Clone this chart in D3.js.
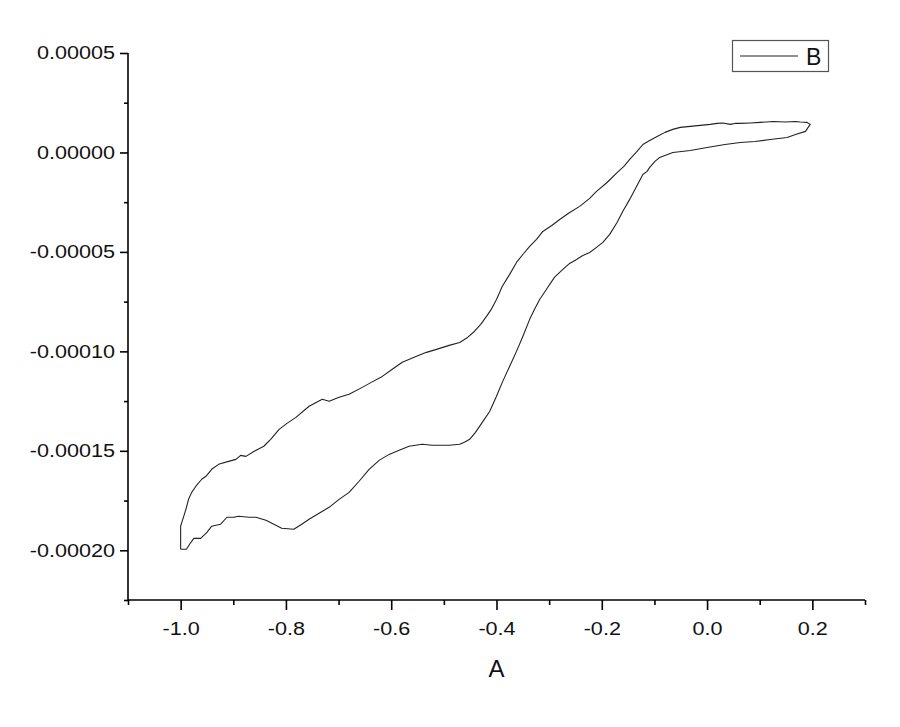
<!DOCTYPE html>
<html>
<head>
<meta charset="utf-8">
<script src="https://cdn.jsdelivr.net/npm/d3@7"></script>
<style>
  html, body { margin: 0; padding: 0; background: #fff; }
  svg { display: block; }
  text { font-family: "Liberation Sans", Arial, sans-serif; fill: #111; }
</style>
</head>
<body>
<svg id="chart" width="900" height="727"></svg>
<script>
// ---- data (x = A, y = B) ----
const forwardScan = [
  [-1.000,-19.95e-5],[-1.000,-19.45e-5],[-1.000,-18.79e-5],[-0.990,-17.94e-5],[-0.985,-17.44e-5],
  [-0.979,-17.09e-5],[-0.971,-16.78e-5],[-0.960,-16.43e-5],[-0.952,-16.28e-5],[-0.941,-15.93e-5],
  [-0.928,-15.68e-5],[-0.909,-15.53e-5],[-0.895,-15.43e-5],[-0.886,-15.23e-5],[-0.876,-15.28e-5],
  [-0.861,-15.03e-5],[-0.842,-14.77e-5],[-0.829,-14.42e-5],[-0.813,-13.92e-5],[-0.798,-13.62e-5],
  [-0.781,-13.32e-5],[-0.756,-12.76e-5],[-0.731,-12.41e-5],[-0.718,-12.51e-5],[-0.699,-12.31e-5],
  [-0.680,-12.16e-5],[-0.655,-11.81e-5],[-0.638,-11.56e-5],[-0.617,-11.26e-5],[-0.598,-10.90e-5],
  [-0.579,-10.55e-5],[-0.552,-10.25e-5],[-0.533,-10.05e-5],[-0.514,-9.90e-5],[-0.490,-9.70e-5],
  [-0.470,-9.55e-5],[-0.455,-9.30e-5],[-0.442,-9.00e-5],[-0.430,-8.64e-5],[-0.419,-8.24e-5],
  [-0.410,-7.89e-5],[-0.400,-7.39e-5],[-0.389,-6.73e-5],[-0.375,-6.13e-5],[-0.362,-5.53e-5],
  [-0.350,-5.13e-5],[-0.337,-4.72e-5],[-0.324,-4.37e-5],[-0.312,-3.97e-5],[-0.295,-3.67e-5],
  [-0.280,-3.37e-5],[-0.261,-3.02e-5],[-0.242,-2.71e-5],[-0.223,-2.31e-5],[-0.210,-1.96e-5],
  [-0.190,-1.51e-5],[-0.171,-1.01e-5],[-0.158,-0.70e-5],[-0.147,-0.35e-5],[-0.133,0.05e-5],
  [-0.122,0.40e-5],[-0.109,0.60e-5],[-0.095,0.80e-5],[-0.080,1.01e-5],[-0.065,1.16e-5],
  [-0.051,1.26e-5],[-0.032,1.31e-5],[-0.013,1.36e-5],[0.006,1.41e-5],[0.019,1.46e-5],
  [0.030,1.48e-5],[0.044,1.41e-5],[0.053,1.46e-5],[0.063,1.46e-5],[0.082,1.48e-5],
  [0.101,1.51e-5],[0.126,1.56e-5],[0.149,1.53e-5],[0.168,1.56e-5],[0.177,1.53e-5],
  [0.190,1.51e-5],[0.196,1.41e-5],[0.192,1.26e-5]
];
const reverseScan = [
  [0.187,1.06e-5],[0.168,0.90e-5],[0.152,0.75e-5],[0.120,0.65e-5],[0.091,0.55e-5],
  [0.063,0.50e-5],[0.034,0.40e-5],[0.000,0.25e-5],[-0.032,0.10e-5],[-0.065,0.00e-5],
  [-0.080,-0.15e-5],[-0.090,-0.25e-5],[-0.099,-0.45e-5],[-0.109,-0.75e-5],[-0.114,-0.95e-5],
  [-0.122,-1.11e-5],[-0.133,-1.66e-5],[-0.147,-2.36e-5],[-0.160,-2.96e-5],[-0.171,-3.52e-5],
  [-0.185,-4.12e-5],[-0.198,-4.52e-5],[-0.210,-4.77e-5],[-0.223,-5.03e-5],[-0.236,-5.18e-5],
  [-0.248,-5.38e-5],[-0.261,-5.58e-5],[-0.274,-5.88e-5],[-0.290,-6.28e-5],[-0.305,-6.88e-5],
  [-0.318,-7.39e-5],[-0.328,-7.89e-5],[-0.337,-8.39e-5],[-0.350,-9.25e-5],[-0.362,-10.00e-5],
  [-0.375,-10.75e-5],[-0.389,-11.56e-5],[-0.400,-12.26e-5],[-0.413,-13.02e-5],[-0.427,-13.57e-5],
  [-0.440,-14.07e-5],[-0.451,-14.42e-5],[-0.461,-14.57e-5],[-0.470,-14.67e-5],[-0.490,-14.72e-5],
  [-0.503,-14.72e-5],[-0.522,-14.72e-5],[-0.541,-14.67e-5],[-0.566,-14.77e-5],[-0.585,-14.97e-5],
  [-0.604,-15.18e-5],[-0.623,-15.48e-5],[-0.642,-15.93e-5],[-0.661,-16.53e-5],[-0.680,-17.09e-5],
  [-0.699,-17.44e-5],[-0.718,-17.84e-5],[-0.737,-18.14e-5],[-0.756,-18.44e-5],[-0.770,-18.69e-5],
  [-0.785,-18.94e-5],[-0.808,-18.89e-5],[-0.823,-18.69e-5],[-0.838,-18.49e-5],[-0.857,-18.34e-5],
  [-0.870,-18.34e-5],[-0.890,-18.29e-5],[-0.899,-18.34e-5],[-0.912,-18.34e-5],[-0.924,-18.69e-5],
  [-0.941,-18.79e-5],[-0.950,-19.10e-5],[-0.962,-19.40e-5],[-0.975,-19.40e-5],[-0.983,-19.70e-5],
  [-0.989,-19.95e-5],[-1.000,-19.95e-5]
];
const xMajorTicks = [-1.0, -0.8, -0.6, -0.4, -0.2, 0.0, 0.2];
const xMinorTicks = [-1.1, -0.9, -0.7, -0.5, -0.3, -0.1, 0.1, 0.3];
const yMajorTicks = [0.00005, 0, -0.00005, -0.00010, -0.00015, -0.00020];
const yMinorTicks = [0.000025, -0.000025, -0.000075, -0.000125, -0.000175, -0.000225];
const xDomain = [-1.1, 0.3];
const yDomain = [-0.000225, 0.00005];
const xTitle = "A";
const legendLabel = "B";

// ---- layout ----
const svg = d3.select("#chart");
const plot = { left: 128, right: 865, top: 53, bottom: 600 };
const x = d3.scaleLinear().domain(xDomain).range([plot.left, plot.right]);
const y = d3.scaleLinear().domain(yDomain).range([plot.bottom, plot.top]);
const stretch = 1.2;

function fmtY(v) { const s = v.toFixed(5); return s === "-0.00000" ? "0.00000" : s; }
function fmtX(v) { const s = v.toFixed(1); return s === "-0.0" ? "0.0" : s; }

// x axis
const gx = svg.append("g").attr("transform", `translate(0,${plot.bottom})`);
gx.call(d3.axisBottom(x).tickValues(xMinorTicks).tickSize(5).tickFormat(""))
  .call(g => g.select(".domain").remove());
gx.append("g").call(d3.axisBottom(x).tickValues(xMajorTicks).tickSize(10).tickSizeOuter(0).tickFormat(fmtX).tickPadding(12))
  .call(g => g.select(".domain").attr("stroke-width", 1.6).attr("d", `M${plot.left},0H${plot.right}`));
gx.selectAll(".tick line").attr("stroke", "#000").attr("stroke-width", 1.6);
gx.selectAll(".tick text").attr("font-size", 18).attr("font-family", "Liberation Sans, Arial, sans-serif")
  .attr("fill", "#111").attr("x", 0).attr("transform", `scale(${stretch},1)`);

// y axis
const gy = svg.append("g").attr("transform", `translate(${plot.left},0)`);
gy.call(d3.axisLeft(y).tickValues(yMinorTicks).tickSize(4).tickFormat(""))
  .call(g => g.select(".domain").remove());
gy.append("g").call(d3.axisLeft(y).tickValues(yMajorTicks).tickSize(8).tickSizeOuter(0).tickFormat(fmtY).tickPadding(5))
  .call(g => g.select(".domain").attr("stroke-width", 1.6).attr("d", `M0,${plot.bottom}V${plot.top}`));
gy.selectAll(".tick line").attr("stroke", "#000").attr("stroke-width", 1.6);
gy.selectAll(".tick text").attr("font-size", 18).attr("font-family", "Liberation Sans, Arial, sans-serif")
  .attr("fill", "#111").attr("x", -13 / stretch).attr("transform", `scale(${stretch},1)`);

// x title
svg.append("text").attr("x", (plot.left + plot.right) / 2).attr("y", 677)
  .attr("text-anchor", "middle").attr("font-size", 24).text(xTitle);

// curve
const line = d3.line().x(d => x(d[0])).y(d => y(d[1]));
svg.append("path").datum(forwardScan.concat(reverseScan))
  .attr("d", line).attr("fill", "none").attr("stroke", "#222").attr("stroke-width", 1.1)
  .attr("stroke-linejoin", "round");

// legend
const lg = svg.append("g");
lg.append("rect").attr("x", 732.5).attr("y", 40.5).attr("width", 96).attr("height", 31)
  .attr("fill", "#fff").attr("stroke", "#555").attr("stroke-width", 1.2);
lg.append("line").attr("x1", 740).attr("x2", 798).attr("y1", 56).attr("y2", 56)
  .attr("stroke", "#222").attr("stroke-width", 1.1);
lg.append("text").attr("x", 806).attr("y", 64.5).attr("font-size", 23).text(legendLabel);
</script>
</body>
</html>
